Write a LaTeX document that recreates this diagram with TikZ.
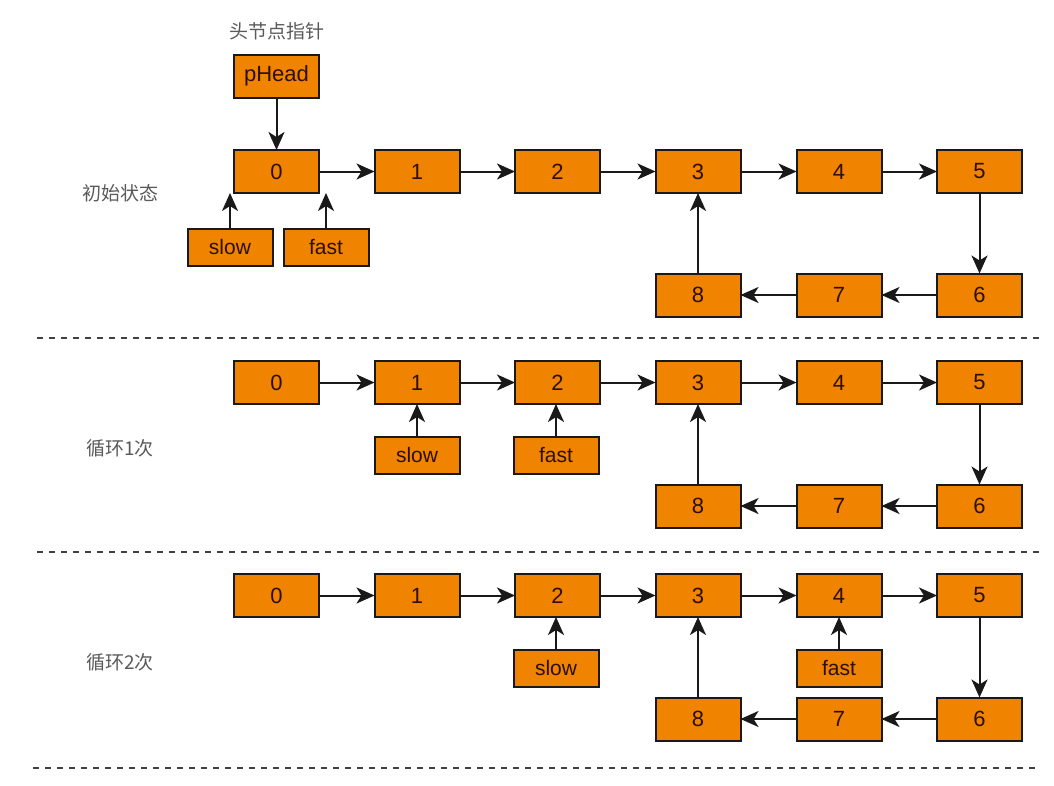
\documentclass[tikz,border=0pt]{standalone}
\usepackage{fontspec}
\setmainfont{Liberation Sans}
\newfontfamily\cjk{Noto Sans CJK SC}
\usetikzlibrary{arrows.meta}
\definecolor{boxfill}{RGB}{240,131,0}
\definecolor{boxtext}{RGB}{45,15,0}
\definecolor{labgray}{RGB}{90,90,90}
\tikzset{
  nd/.style={draw=black!90, line width=2pt, fill=boxfill, text=boxtext, minimum width=85pt, minimum height=43pt, inner sep=0pt, font=\fontsize{22}{22}\selectfont},
  ptr/.style={nd, minimum height=37pt, font=\fontsize{21}{21}\selectfont},
  arr/.style={line width=2pt, black!90, -{Stealth[length=18pt,width=16pt,inset=5pt]}, shorten >=-1pt},
  sep/.style={line width=2.2pt, black!75, dash pattern=on 6pt off 6pt},
  lab/.style={text=labgray, font=\cjk\fontsize{19}{19}\selectfont, inner sep=0pt}
}
\begin{document}
\begin{tikzpicture}[x=1pt,y=-1pt]
\useasboundingbox (0,0) rectangle (1054,785);
% separators
\coordinate (s1a) at (37,338); \coordinate (s1b) at (1040,338);
\coordinate (s2a) at (37,552); \coordinate (s2b) at (1040,552);
\coordinate (s3a) at (33,768); \coordinate (s3b) at (1040,768);
\draw[sep] (s1a) -- (s1b);
\draw[sep] (s2a) -- (s2b);
\draw[sep] (s3a) -- (s3b);
% labels
\node[lab] (t0) at (277,31) {头节点指针};
\node[lab] (l1) at (120,193) {初始状态};
\node[lab] (l2) at (120,448) {循环1次};
\node[lab] (l3) at (120,662) {循环2次};
% row 1
\node[nd] (ph) at (276.5,76) {pHead};
\foreach \r/\yt/\yb in {a/171.5/295, b/382.5/506, c/595.5/719}{
  \node[nd] (\r0) at (276.5,\yt) {0};
  \node[nd] (\r1) at (417,\yt) {1};
  \node[nd] (\r2) at (557.5,\yt) {2};
  \node[nd] (\r3) at (698,\yt) {3};
  \node[nd] (\r4) at (839,\yt) {4};
  \node[nd] (\r5) at (979.5,\yt) {5};
  \node[nd] (\r6) at (979.5,\yb) {6};
  \node[nd] (\r7) at (839,\yb) {7};
  \node[nd] (\r8) at (698,\yb) {8};
  \draw[arr] (\r0) -- (\r1);
  \draw[arr] (\r1) -- (\r2);
  \draw[arr] (\r2) -- (\r3);
  \draw[arr] (\r3) -- (\r4);
  \draw[arr] (\r4) -- (\r5);
  \draw[arr] (\r5) -- (\r6);
  \draw[arr] (\r6) -- (\r7);
  \draw[arr] (\r7) -- (\r8);
  \draw[arr] (\r8) -- (\r3);
}
\draw[arr] (ph) -- (a0);
% pointers row 1
\node[ptr] (as) at (230,247) {slow};
\node[ptr] (af) at (326,247) {fast};
\draw[arr] (as.north) -- (as.north |- a0.south);
\draw[arr] (af.north) -- (af.north |- a0.south);
% row 2
\node[ptr] (bs) at (417,455) {slow};
\node[ptr] (bf) at (556,455) {fast};
\draw[arr] (bs) -- (bs |- b1.south);
\draw[arr] (bf) -- (bf |- b2.south);
% row 3
\node[ptr] (cs) at (556,668) {slow};
\node[ptr] (cf) at (839,668) {fast};
\draw[arr] (cs) -- (cs |- c2.south);
\draw[arr] (cf) -- (c4);
\end{tikzpicture}
\end{document}
